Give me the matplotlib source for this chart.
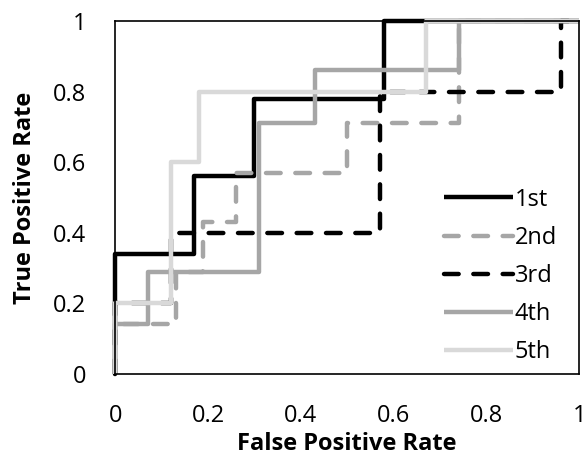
import matplotlib
matplotlib.use("Agg")
import matplotlib.pyplot as plt

# ROC corner points (steps-post)
labels = ["1st", "2nd", "3rd", "4th", "5th"]
fpr_1st = [0, 0, 0.17, 0.30, 0.58, 1]
tpr_1st = [0, 0.34, 0.56, 0.78, 1, 1]
fpr_2nd = [0, 0, 0.13, 0.19, 0.26, 0.50, 0.74, 1]
tpr_2nd = [0, 0.14, 0.29, 0.43, 0.57, 0.71, 1, 1]
fpr_3rd = [0, 0, 0.12, 0.57, 0.96, 1]
tpr_3rd = [0, 0.2, 0.4, 0.8, 1, 1]
fpr_4th = [0, 0, 0.07, 0.31, 0.43, 0.74, 1]
tpr_4th = [0, 0.14, 0.29, 0.71, 0.86, 1, 1]
fpr_5th = [0, 0, 0.12, 0.18, 0.67, 1]
tpr_5th = [0, 0.2, 0.6, 0.8, 1, 1]

ticks = [0, 0.2, 0.4, 0.6, 0.8, 1]
tick_labels = ["0", "0.2", "0.4", "0.6", "0.8", "1"]

plt.rcParams["font.family"] = ["Open Sans", "DejaVu Sans"]

fig = plt.figure(figsize=(5.85, 4.57), dpi=100)
left, bottom, width, height = 0.197, 0.182, 0.793, 0.772
ax = fig.add_axes([left, bottom, width, height])

series = [
    (fpr_1st, tpr_1st, "black", "-"),
    (fpr_2nd, tpr_2nd, "#a6a6a6", "--"),
    (fpr_3rd, tpr_3rd, "black", "--"),
    (fpr_4th, tpr_4th, "#a6a6a6", "-"),
    (fpr_5th, tpr_5th, "#d9d9d9", "-"),
]
for (x, y, c, ls), lab in zip(series, labels):
    line, = ax.plot(x, y, drawstyle="steps-post", color=c, lw=3.2, ls=ls,
                    label=lab, clip_on=False, solid_capstyle="butt",
                    dash_capstyle="round")
    if ls == "--":
        line.set_dashes([3.3, 3.3])

ax.set_xlim(0, 1)
ax.set_ylim(0, 1)
ax.set_xticks(ticks)
ax.set_xticklabels(tick_labels)
ax.set_yticks(ticks)
ax.set_yticklabels(tick_labels)
ax.tick_params(length=0, labelsize=17)
ax.tick_params(axis="x", pad=22)
ax.tick_params(axis="y", pad=21)
for s in ax.spines.values():
    s.set_linewidth(1.2)

# axis titles placed by hand to match the original spacing
fig.text(left + width / 2, 0.0153, "False Positive Rate", fontsize=17,
         fontweight="bold", ha="center", va="baseline")
fig.text(25 / 585, bottom + height / 2, "True Positive Rate", fontsize=17,
         fontweight="bold", ha="center", va="center", rotation=90)

leg = ax.legend(loc="lower right", bbox_to_anchor=(0.973, 0.0), frameon=False,
                fontsize=17, handlelength=2.9, handletextpad=0.1,
                labelspacing=0.6, borderaxespad=0.0)

plt.savefig("out.png", dpi=100)
